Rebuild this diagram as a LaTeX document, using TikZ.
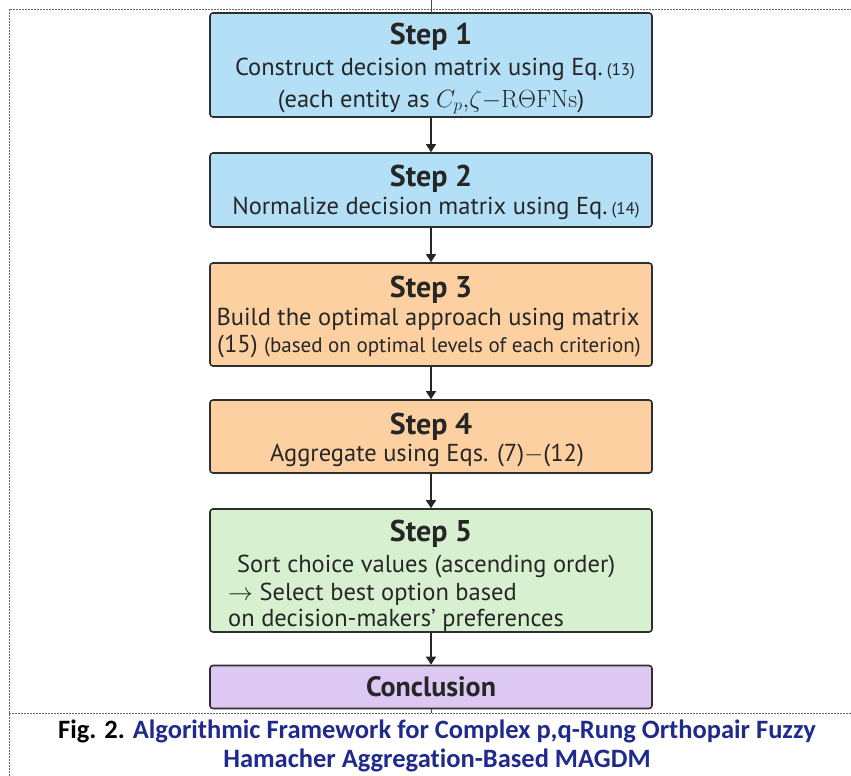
\documentclass[tikz,border=0pt]{standalone}
\usepackage[no-math]{fontspec}
\setmainfont{PT Sans}
\newfontfamily\capfont[Ligatures=NoCommon]{Carlito}
\usetikzlibrary{arrows.meta}
\definecolor{boxblue}{HTML}{B4E0F7}
\definecolor{boxorange}{HTML}{FDD0A2}
\definecolor{boxgreen}{HTML}{D7F1D0}
\definecolor{boxpurple}{HTML}{DDC8F4}
\definecolor{edgegray}{HTML}{2E2E2E}
\definecolor{capblue}{HTML}{1F2A8C}
\tikzset{
  stepbox/.style={draw=edgegray, line width=1.6pt, rounded corners=3pt,
    minimum width=442pt, inner sep=0pt},
  title/.style={inner sep=0pt, anchor=base, text=black!85,
    font=\fontsize{30}{32}\selectfont\bfseries},
  body/.style={inner sep=0pt, anchor=base, text=black!85,
    font=\fontsize{24.5}{26}\selectfont},
  bodyl/.style={body, anchor=base west},
  flowarrow/.style={draw=black!85, line width=1.4pt, -{Triangle[width=10pt,length=8pt]}},
  frameline/.style={draw=black!60, line width=0.6pt, dash pattern=on 2pt off 1pt},
  thinline/.style={draw=black!70, line width=0.8pt}
}
\newcommand{\smq}[1]{{\fontsize{17}{20}\selectfont #1}}
\begin{document}
\begin{tikzpicture}[x=1pt,y=-1pt]
\useasboundingbox (0,0) rectangle (851,776);
% frame
\coordinate (fTL) at (9,9);
\coordinate (fTR) at (851,9);
\coordinate (fBL) at (9,776);
\coordinate (fML) at (9,713);
\coordinate (fMR) at (851,713);
\draw[frameline] (fBL) -- (fTL) -- (fTR);
\draw[frameline] (fML) -- (fMR);
% boxes
\node[stepbox, fill=boxblue,   minimum height=104pt] (s1) at (431,65) {};
\node[stepbox, fill=boxblue,   minimum height=74pt]  (s2) at (431,190) {};
\node[stepbox, fill=boxorange, minimum height=103pt] (s3) at (431,314.5) {};
\node[stepbox, fill=boxorange, minimum height=73pt]  (s4) at (431,436.5) {};
\node[stepbox, fill=boxgreen,  minimum height=123pt] (s5) at (431,570.5) {};
\node[stepbox, fill=boxpurple, minimum height=43pt]  (c)  at (431,687) {};
% texts
\node[title] (t1) at (431,45) {Step 1};
\node[body] (t1a) at (435,75) {Construct decision matrix using Eq.\,\smq{(13)}};
\node[body] (t1b) at (431,107) {(each entity as $C_p{,}\zeta{-}\mathrm{R\Theta FNs}$)};
\node[title] (t2) at (431,186) {Step 2};
\node[body] (t2a) at (436,214) {Normalize decision matrix using Eq.\,\smq{(14)}};
\node[title] (t3) at (431,297) {Step 3};
\node[body] (t3a) at (428,325) {Build the optimal approach using matrix};
\node[body] (t3b) at (429,352) {(15) {\fontsize{21}{24}\selectfont (based on optimal levels of each criterion)}};
\node[title] (t4) at (431,434) {Step 4};
\node[body] (t4a) at (427,461) {Aggregate using Eqs. (7)$-$(12)};
\node[title] (t5) at (431,541) {Step 5};
\node[bodyl] (t5a) at (237,572) {Sort choice values (ascending order)};
\node[bodyl] (t5b) at (228,600) {$\rightarrow$ Select best option based};
\node[bodyl] (t5c) at (228,626) {on decision-makers’ preferences};
\node[title, anchor=center, font=\fontsize{28}{30}\selectfont\bfseries] (tc) at (431,687) {Conclusion};
% arrows
\draw[flowarrow] (s1) -- (s2);
\draw[flowarrow] (s2) -- (s3);
\draw[flowarrow] (s3) -- (s4);
\draw[flowarrow] (s4) -- (s5);
\draw[flowarrow] (s5) -- (c);
% short stubs
\coordinate (topstub) at (s1.north |- 0,0);
\coordinate (botstub) at (c.south |- fML);
\draw[thinline] (topstub) -- (s1.north);
\draw[thinline] (c.south) -- (botstub);
% caption
\node[font=\capfont\fontsize{26.5}{29}\selectfont\bfseries, align=center, text=capblue] (cap) at (437,746)
  {\textcolor{black}{Fig. 2.} Algorithmic Framework for Complex p,q-Rung Orthopair Fuzzy\\
   Hamacher Aggregation-Based MAGDM};
\end{tikzpicture}
\end{document}
